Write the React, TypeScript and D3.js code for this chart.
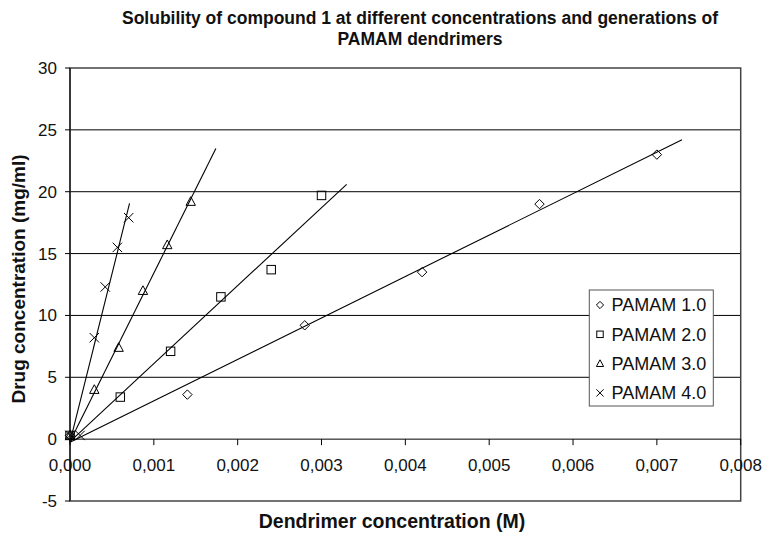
import React from "react";
import * as d3 from "d3";

const W = 764;
const H = 533;

// ---- data ----
const seriesNames = ["PAMAM 1.0", "PAMAM 2.0", "PAMAM 3.0", "PAMAM 4.0"];
const markerTypes = ["diamond", "square", "triangle", "cross"];

const pamam1X = [0, 0.0014, 0.0028, 0.0042, 0.0056, 0.007];
const pamam1Y = [0.3, 3.6, 9.2, 13.5, 19.0, 23.0];
const pamam2X = [0, 0.0006, 0.0012, 0.0018, 0.0024, 0.003];
const pamam2Y = [0.3, 3.4, 7.1, 11.5, 13.7, 19.7];
const pamam3X = [0, 0.00029, 0.00058, 0.00087, 0.00116, 0.00144];
const pamam3Y = [0.3, 4.0, 7.4, 12.0, 15.7, 19.2];
const pamam4X = [0, 0.00012, 0.00029, 0.00042, 0.000565, 0.0007];
const pamam4Y = [0.3, 0.3, 8.2, 12.3, 15.5, 17.9];

// linear trendlines (start at x = 0)
const trendStartY = [-0.25, -0.2, -0.2, -0.25];
const trendEndX = [0.0073, 0.0033, 0.00174, 0.00071];
const trendEndY = [24.2, 20.6, 23.5, 19.05];

const xTicks = [0, 0.001, 0.002, 0.003, 0.004, 0.005, 0.006, 0.007, 0.008];
const yTicks = [-5, 0, 5, 10, 15, 20, 25, 30];

const titleLines = [
  "Solubility of compound 1 at different concentrations and generations of",
  "PAMAM dendrimers",
];
const xTitle = "Dendrimer concentration (M)";
const yTitle = "Drug concentration (mg/ml)";

const FONT = "'Liberation Sans', Arial, Helvetica, sans-serif";

const xs = [pamam1X, pamam2X, pamam3X, pamam4X];
const ysArr = [pamam1Y, pamam2Y, pamam3Y, pamam4Y];

function Marker({ type, x, y, s }: { type: string; x: number; y: number; s: number }) {
  const st = { fill: "none", stroke: "#000", strokeWidth: 1 };
  if (type === "diamond") {
    return <path d={`M${x},${y - s}L${x + s},${y}L${x},${y + s}L${x - s},${y}Z`} {...st} />;
  }
  if (type === "square") {
    return <rect x={x - s * 0.9} y={y - s * 0.9} width={s * 1.8} height={s * 1.8} {...st} />;
  }
  if (type === "triangle") {
    return <path d={`M${x},${y - s * 1.05}L${x + s},${y + s * 0.8}L${x - s},${y + s * 0.8}Z`} {...st} />;
  }
  return (
    <path d={`M${x - s},${y - s}L${x + s},${y + s}M${x - s},${y + s}L${x + s},${y - s}`} {...st} />
  );
}

export default function App() {
  const left = 70;
  const right = 740.7;
  const top = 68;
  const bottom = 501;

  const x = d3.scaleLinear().domain([0, 0.008]).range([left, right]);
  const y = d3.scaleLinear().domain([-5, 30]).range([bottom, top]);
  const fmt = (v: number) => d3.format(".3f")(v).replace(".", ",");

  const line = d3
    .line<[number, number]>()
    .x((d) => x(d[0]))
    .y((d) => y(d[1]));

  const legX = 589.3;
  const legY = 290;
  const legW = 124;
  const legH = 116;
  const legStep = 29.3;

  return (
    <div style={{ position: "fixed", left: 0, top: 0, width: W, height: H, background: "#fff" }}>
      <svg width={W} height={H} style={{ display: "block" }} fontFamily={FONT}>
        <rect x={0} y={0} width={W} height={H} fill="#fff" />
        {/* title */}
        {titleLines.map((t, i) => (
          <text
            key={t}
            x={420}
            y={24 + i * 20.5}
            textAnchor="middle"
            fontSize={17.5}
            fontWeight="bold"
            fill="#111"
          >
            {t}
          </text>
        ))}

        {/* gridlines */}
        {yTicks
          .filter((v) => v > -5 && v < 30 && v !== 0)
          .map((v) => (
            <line key={v} x1={left} x2={right} y1={y(v)} y2={y(v)} stroke="#000" strokeWidth={1} />
          ))}

        {/* frame */}
        <rect
          x={left}
          y={top}
          width={right - left}
          height={bottom - top}
          fill="none"
          stroke="#444"
          strokeWidth={1.5}
        />

        {/* x axis at y = 0 */}
        <line x1={left} x2={right} y1={y(0)} y2={y(0)} stroke="#000" strokeWidth={1} />
        {xTicks.map((v) => (
          <g key={v}>
            <line x1={x(v)} x2={x(v)} y1={y(0)} y2={y(0) + 6} stroke="#000" strokeWidth={1} />
            <text x={x(v)} y={471} textAnchor="middle" fontSize={17} fill="#111">
              {fmt(v)}
            </text>
          </g>
        ))}

        {/* y axis */}
        <line x1={left} x2={left} y1={top} y2={bottom} stroke="#000" strokeWidth={1} />
        {yTicks.map((v) => (
          <g key={v}>
            <line x1={left - 5} x2={left} y1={y(v)} y2={y(v)} stroke="#000" strokeWidth={1} />
            <text
              x={57}
              y={y(v)}
              dy="0.35em"
              textAnchor="end"
              fontSize={17}
              fill="#111"
            >
              {v}
            </text>
          </g>
        ))}

        {/* trendlines */}
        {trendEndX.map((ex, i) => (
          <path
            key={i}
            d={line([
              [0, trendStartY[i]],
              [ex, trendEndY[i]],
            ]) as string}
            fill="none"
            stroke="#000"
            strokeWidth={1.1}
          />
        ))}

        {/* points */}
        {xs.map((xa, si) =>
          xa.map((xv, j) => (
            <Marker key={`${si}-${j}`} type={markerTypes[si]} x={x(xv)} y={y(ysArr[si][j])} s={4.7} />
          ))
        )}

        {/* axis titles */}
        <text x={392} y={528} textAnchor="middle" fontSize={19.5} fontWeight="bold" fill="#111">
          {xTitle}
        </text>
        <text
          transform={`translate(24.5,279) rotate(-90)`}
          textAnchor="middle"
          fontSize={19}
          fontWeight="bold"
          fill="#111"
        >
          {yTitle}
        </text>

        {/* legend */}
        <rect x={legX} y={legY} width={legW} height={legH} fill="#fff" stroke="#555" strokeWidth={1} />
        {seriesNames.map((n, i) => (
          <g key={n}>
            <Marker type={markerTypes[i]} x={600} y={legY + 15 + i * legStep} s={3.6} />
            <text x={611.5} y={legY + 15 + i * legStep} dy="0.35em" fontSize={18} fill="#111">
              {n}
            </text>
          </g>
        ))}
      </svg>
    </div>
  );
}
